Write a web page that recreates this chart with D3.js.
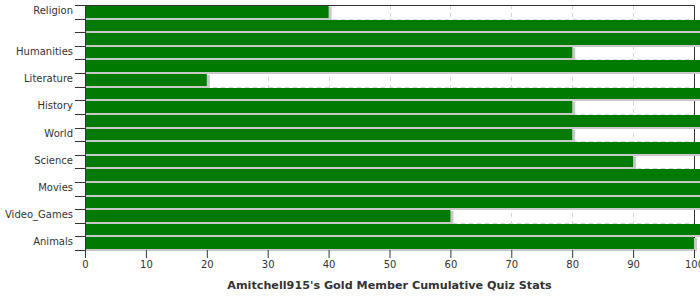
<!DOCTYPE html>
<html>
<head>
<meta charset="utf-8">
<script src="https://cdn.jsdelivr.net/npm/d3@7"></script>
<style>
  body { margin: 0; background: #fff; }
  text { font-family: "DejaVu Sans", sans-serif; fill: #333; }
</style>
</head>
<body>
<svg id="chart" width="700" height="300"></svg>
<script>
// category labels (only some rows carry a visible label)
var labels = ["Religion", "", "", "Humanities", "", "Literature", "", "History", "",
              "World", "", "Science", "", "Movies", "", "Video_Games", "", "Animals"];
// bar values (rows past 100 run off the plot edge)
var values = [40, 102, 102, 80, 102, 20, 102, 80, 102, 80, 102, 90, 102, 102, 102, 60, 102, 100];
var xTicks = [0, 10, 20, 30, 40, 50, 60, 70, 80, 90, 100];
var title = "Amitchell915's Gold Member Cumulative Quiz Stats";

var plotLeft = 85, plotRight = 694, plotTop = 5, plotBottom = 250;

var svg = d3.select("#chart");

var rows = values.map(function(v, i) { return { i: i, label: labels[i], value: v }; });

var xScale = d3.scaleLinear().domain([0, 100]).range([plotLeft, plotRight]);
var yScale = d3.scaleBand().domain(d3.range(values.length)).range([plotTop, plotBottom]);

function rowTop(i) { return Math.round(plotTop + i * yScale.step()); }

// grid lines
var grid = svg.append("g").attr("class", "grid");
grid.selectAll("line.vx")
    .data(xTicks.slice(1, -1))
    .enter().append("line")
    .attr("x1", function(d) { return Math.round(xScale(d)) + 0.5; })
    .attr("x2", function(d) { return Math.round(xScale(d)) + 0.5; })
    .attr("y1", plotTop).attr("y2", plotBottom)
    .attr("stroke", "#cfd6da")
    .attr("stroke-dasharray", "4,4");
grid.selectAll("line.hy")
    .data(d3.range(1, values.length))
    .enter().append("line")
    .attr("x1", plotLeft).attr("x2", plotRight)
    .attr("y1", function(d) { return rowTop(d) + 0.5; })
    .attr("y2", function(d) { return rowTop(d) + 0.5; })
    .attr("stroke", "#cfd6da")
    .attr("stroke-dasharray", "4,4");

// plot border
svg.append("path")
    .attr("d", "M" + (plotLeft + 0.5) + "," + (plotBottom + 0.5) + "V" + (plotTop + 0.5) +
               "H" + (plotRight + 0.5) + "V" + (plotBottom + 0.5))
    .attr("fill", "none")
    .attr("stroke", "#333")
    .attr("stroke-width", 1);

var bars = svg.selectAll("g.bar").data(rows).enter().append("g").attr("class", "bar");

// shadows
bars.append("rect")
    .attr("x", plotLeft + 1)
    .attr("y", function(d) { return rowTop(d.i) + 2; })
    .attr("width", function(d) { return xScale(d.value) - plotLeft + 2; })
    .attr("height", function(d) { return rowTop(d.i + 1) - rowTop(d.i) - 1; })
    .attr("fill", "#c8c8c8");

bars.append("rect")
    .attr("x", plotLeft + 1)
    .attr("y", function(d) { return rowTop(d.i) + 1; })
    .attr("width", function(d) { return xScale(d.value) - plotLeft - 1; })
    .attr("height", function(d) { return rowTop(d.i + 1) - rowTop(d.i) - 2; })
    .attr("fill", "#007a00");

// left axis line over the bars
svg.append("line")
    .attr("x1", plotLeft + 0.5).attr("x2", plotLeft + 0.5)
    .attr("y1", plotTop).attr("y2", plotBottom + 8)
    .attr("stroke", "#333");

// y ticks on row boundaries
svg.selectAll("line.ytick")
    .data(d3.range(values.length + 1))
    .enter().append("line")
    .attr("x1", plotLeft - 10).attr("x2", plotLeft)
    .attr("y1", function(d) { return rowTop(d) + 0.5; })
    .attr("y2", function(d) { return rowTop(d) + 0.5; })
    .attr("stroke", "#333");

svg.selectAll("text.ylabel")
    .data(rows.filter(function(d) { return d.label; }))
    .enter().append("text")
    .attr("x", plotLeft - 12)
    .attr("y", function(d) { return yScale(d.i) + yScale.bandwidth() / 2; })
    .attr("dy", "0.22em")
    .attr("text-anchor", "end")
    .attr("font-size", 10)
    .text(function(d) { return d.label; });

// x axis
var xAxis = d3.axisBottom(xScale).tickValues(xTicks).tickSize(8).tickPadding(3);
var gx = svg.append("g")
    .attr("transform", "translate(0," + plotBottom + ")")
    .call(xAxis);
gx.select(".domain").remove();
gx.selectAll(".tick line").attr("stroke", "#333");
gx.selectAll("text").attr("font-size", 10).attr("font-family", "DejaVu Sans").attr("fill", "#333");

svg.append("text")
    .attr("x", (plotLeft + plotRight) / 2)
    .attr("y", 289)
    .attr("text-anchor", "middle")
    .attr("font-size", 11.2)
    .attr("font-weight", "bold")
    .text(title);
</script>
</body>
</html>
